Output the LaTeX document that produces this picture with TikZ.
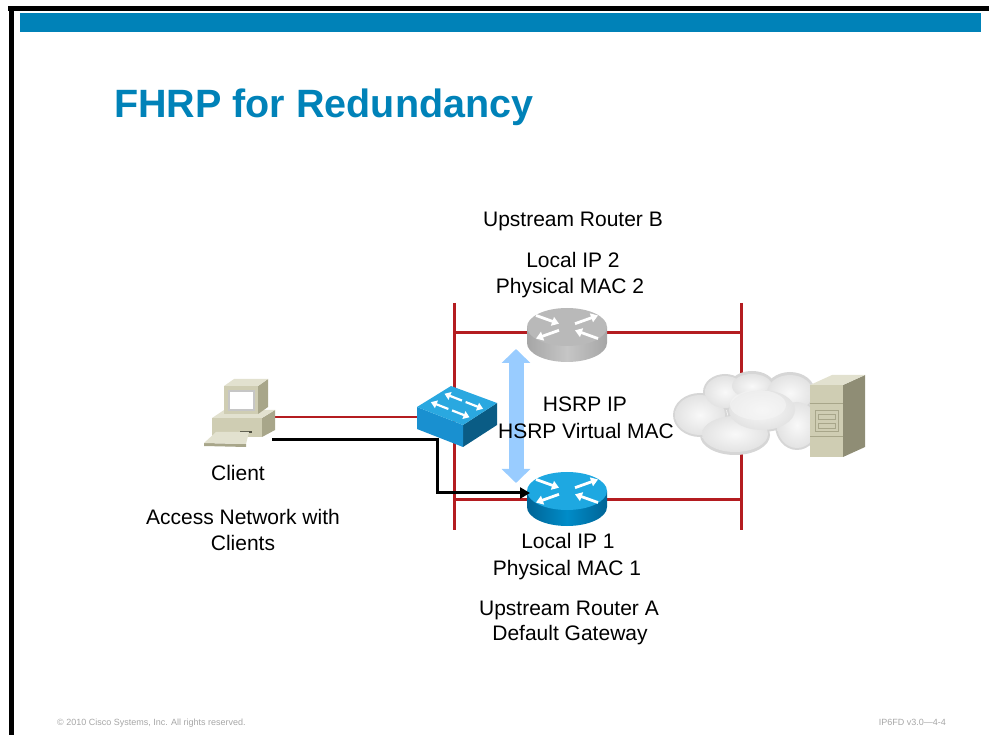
\documentclass[tikz,border=0pt]{standalone}
\usepackage{fontspec}
\setmainfont{Liberation Sans}
\usetikzlibrary{arrows.meta}

\definecolor{ciscoblue}{RGB}{0,130,184}
\definecolor{linkred}{RGB}{180,28,32}
\definecolor{hsrpblue}{RGB}{153,204,255}
\definecolor{rtrtop}{RGB}{30,168,225}
\definecolor{rtrside}{RGB}{0,140,200}
\definecolor{rtrsidedk}{RGB}{0,100,150}
\definecolor{swtop}{RGB}{42,168,224}
\definecolor{swfront}{RGB}{25,144,208}
\definecolor{swside}{RGB}{10,92,133}
\definecolor{pcfront}{RGB}{207,205,179}
\definecolor{pctop}{RGB}{226,225,207}
\definecolor{pcside}{RGB}{168,166,138}
\definecolor{pcdark}{RGB}{80,80,66}

% router drum: #1 centre of top face, #2 top, #3 side, #4 side edges
\newcommand{\router}[4]{%
  \begin{scope}[shift={#1}]
    \shade[left color=#4,right color=#4,middle color=#3] (-40,0) -- (-40,16)
      arc[start angle=180,end angle=0,x radius=40,y radius=19] -- (40,0) -- cycle;
    \fill[#2] (0,0) ellipse[x radius=40,y radius=19];
    \begin{scope}[yscale=0.55,white,line width=2.8pt,
        arrows={-Triangle[length=7pt,width=9pt]}]
      \draw (-31,-21) -- (-8,-6);
      \draw (8,-6) -- (31,-21);
      \draw (-8,6) -- (-31,21);
      \draw (31,21) -- (8,6);
    \end{scope}
  \end{scope}}

\begin{document}
\begin{tikzpicture}[x=1pt,y=-1pt]
\tikzstyle{every node}+=[inner sep=0pt]
\tikzstyle{devtext}=[font=\fontsize{21}{26}\selectfont,anchor=base]
\tikzstyle{footer}=[text=gray!70,font=\fontsize{9}{10}\selectfont]
\tikzstyle{lan}=[draw=linkred,line width=3pt]
\tikzstyle{access}=[draw=linkred,line width=2pt]
\tikzstyle{traffic}=[draw=black,line width=3pt,-{Triangle[length=10pt,width=11pt]}]
\tikzstyle{hsrp}=[draw=hsrpblue,line width=15pt,
  {Triangle[length=14pt,width=28pt]}-{Triangle[length=14pt,width=28pt]}]
\useasboundingbox (0,0) rectangle (989,735);

% slide frame and banner
\fill[black] (8,6) rectangle (989,11);
\fill[black] (9,6) rectangle (14,735);
\fill[ciscoblue] (20,13) rectangle (981,32);
\node[anchor=base west,text=ciscoblue,font=\fontsize{39.5}{46}\selectfont\bfseries]
  (title) at (114,118) {FHRP for Redundancy};

% device positions
\coordinate (rtrB) at (567,327);
\coordinate (rtrA) at (567,491);
\coordinate (lanNW) at (454,303);
\coordinate (lanSW) at (454,530);
\coordinate (lanNE) at (741,303);
\coordinate (lanSE) at (741,530);
\coordinate (busBw) at (454,333);
\coordinate (busBe) at (741,333);
\coordinate (busAw) at (454,500);
\coordinate (busAe) at (741,500);
\coordinate (pclan) at (272,417);
\coordinate (swlan) at (420,417);
\coordinate (pcport) at (272,440);
\coordinate (turn) at (437,493);
\coordinate (gwport) at (530,493);
\coordinate (hsrpB) at (516,349);
\coordinate (hsrpA) at (516,483);

% links
\draw[lan] (lanNW) -- (lanSW);
\draw[lan] (lanNE) -- (lanSE);
\draw[lan] (busBw) -- (busBe);
\draw[lan] (busAw) -- (busAe);
\draw[access] (pclan) -- (swlan);

% cloud
\fill[gray!32] (700,415) ellipse[x radius=27,y radius=22]
  (725,392) ellipse[x radius=22,y radius=18] (752,385) ellipse[x radius=22,y radius=14]
  (790,392) ellipse[x radius=25,y radius=20] (797,425) ellipse[x radius=22,y radius=25]
  (735,435) ellipse[x radius=35,y radius=20] (762,410) ellipse[x radius=35,y radius=22];
\foreach \cx/\cy/\rx/\ry in {700/415/25/20, 725/392/20/16, 752/386/20/12,
    790/393/23/18, 797/425/20/23, 735/434/33/18, 762/410/33/20}
  \shade[inner color=gray!5,outer color=gray!22] (\cx,\cy) ellipse[x radius=\rx,y radius=\ry];
\fill[gray!8,opacity=0.6] (758,405) ellipse[x radius=28,y radius=15];

% server
\fill[pcside!85!black] (843,385) -- (865,375) -- (865,447) -- (843,457) -- cycle;
\fill[pctop] (810,385) -- (832,375) -- (865,375) -- (843,385) -- cycle;
\fill[pcfront] (810,385) rectangle (843,457);
\draw[pcside,line width=0.8pt] (810,403) -- (843,403) (810,436) -- (843,436);
\draw[pcside,line width=0.8pt] (815,410) rectangle (838,431);
\draw[pcside,line width=0.8pt] (818,414) rectangle (835,419) (818,423) rectangle (835,428);

% client pc
\fill[pcside] (262,418) -- (275,410) -- (275,430) -- (262,437) -- cycle;
\fill[pctop] (212,418) -- (224,410) -- (275,410) -- (262,418) -- cycle;
\fill[pcfront] (212,418) rectangle (262,437);
\fill[pcdark] (240,431) rectangle (252,433);
\fill[pcside] (204,443) -- (246,444) -- (246,447) -- (204,446) -- cycle;
\fill[pctop] (204,443) -- (216,432) -- (249,432) -- (246,444) -- cycle;
\fill[pcside] (258,386) -- (268,379) -- (268,407) -- (258,414) -- cycle;
\fill[pctop] (224,386) -- (234,379) -- (268,379) -- (258,386) -- cycle;
\fill[pcfront] (224,386) rectangle (258,414);
\fill[gray!45] (228,390) rectangle (255,411);
\fill[white] (230,392) rectangle (253,409);

% switch
\fill[swside] (463,425) -- (497,403) -- (497,425) -- (463,447) -- cycle;
\fill[swfront] (417,407) -- (463,425) -- (463,447) -- (417,429) -- cycle;
\fill[swtop] (417,407) -- (451,386) -- (497,403) -- (463,425) -- cycle;
\begin{scope}[shift={(417,407)},x={(46pt,-18pt)},y={(34pt,21pt)},white,
    line width=2.2pt,arrows={-Triangle[length=6pt,width=8pt]}]
  \draw (0.46,0.30) -- (0.08,0.30);
  \draw (0.54,0.30) -- (0.92,0.30);
  \draw (0.46,0.70) -- (0.08,0.70);
  \draw (0.54,0.70) -- (0.92,0.70);
\end{scope}

% routers
\router{(rtrB)}{gray!55}{gray!45}{gray!70}
\router{(rtrA)}{rtrtop}{rtrside}{rtrsidedk}

% forwarding path and standby pairing
\draw[traffic] (pcport) -| (turn) -- (gwport);
\draw[hsrp] (hsrpB) -- (hsrpA);

% labels
\node[devtext] (rtrBname) at (573,227) {Upstream Router B};
\node[devtext] (rtrBip) at (573,268) {Local IP 2};
\node[devtext] (rtrBmac) at (570,294) {Physical MAC 2};
\node[devtext] (vip) at (585,412) {HSRP IP};
\node[devtext] (vmac) at (586,439) {HSRP Virtual MAC};
\node[devtext] (pcname) at (238,481) {Client};
\node[devtext] (accname) at (243,525) {Access Network with};
\node[devtext] (accname2) at (243,550) {Clients};
\node[devtext] (rtrAip) at (568,548) {Local IP 1};
\node[devtext] (rtrAmac) at (567,575) {Physical MAC 1};
\node[devtext] (rtrAname) at (569,615) {Upstream Router A};
\node[devtext] (rtrArole) at (570,640) {Default Gateway};

% footer
\node[footer,anchor=base west] (copy) at (57,725)
  {\copyright{} 2010 Cisco Systems, Inc. All rights reserved.};
\node[footer,anchor=base east] (slideno) at (946,725) {IP6FD v3.0---4-4};
\end{tikzpicture}
\end{document}
